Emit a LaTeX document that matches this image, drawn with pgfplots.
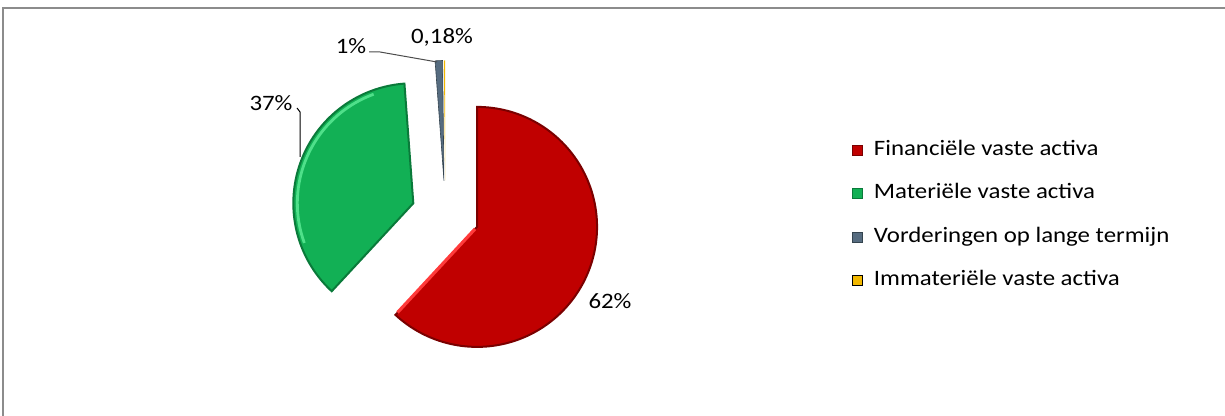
\documentclass[border=0pt]{standalone}
\usepackage{pgfplots}
\pgfplotsset{compat=1.18}
\usepackage{fontspec}
\setmainfont{Carlito}[FakeStretch=1.13]
\definecolor{cRed}{HTML}{C00000}
\definecolor{cRedD}{HTML}{7A0000}
\definecolor{cRedL}{HTML}{FF3A3A}
\definecolor{cGreen}{HTML}{12B055}
\definecolor{cGreenD}{HTML}{0A7A3A}
\definecolor{cGreenL}{HTML}{4FE08A}
\definecolor{cGray}{HTML}{566C80}
\definecolor{cGrayD}{HTML}{34444F}
\definecolor{cYel}{HTML}{F2B800}
\definecolor{cYelD}{HTML}{B08400}
\definecolor{frame}{HTML}{8C8C8C}
% data (percent)
\def\pRed{61.9}
\def\pGreen{36.92}
\def\pGray{1.0}
\def\pYel{0.18}
% geometry (pixel units)
\def\CX{445.4}
\def\CY{201.5}
\def\R{120}
\def\D{34}
\pgfmathsetmacro\aA{90}
\pgfmathsetmacro\aB{\aA-3.6*\pRed}
\pgfmathsetmacro\aC{\aB-3.6*\pGreen}
\pgfmathsetmacro\aDD{\aC-3.6*\pGray}
\pgfmathsetmacro\aE{\aDD-3.6*\pYel}
\pgfmathsetmacro\rx{\CX+\D*cos((\aA+\aB)/2)}
\pgfmathsetmacro\ry{\CY+\D*sin((\aA+\aB)/2)}
\pgfmathsetmacro\gx{\CX+\D*cos((\aB+\aC)/2)}
\pgfmathsetmacro\gy{\CY+\D*sin((\aB+\aC)/2)}
\pgfmathsetmacro\sx{\CX+\D*cos((\aC+\aDD)/2)}
\pgfmathsetmacro\sy{\CY+\D*sin((\aC+\aDD)/2)}
\pgfmathsetmacro\yx{\CX+\D*cos((\aDD+\aE)/2)}
\pgfmathsetmacro\yy{\CY+\D*sin((\aDD+\aE)/2)}
\pgfmathsetmacro\hax{\rx-2}
\pgfmathsetmacro\hay{\ry-2}
\pgfmathsetmacro\hbx{\rx-2+114*cos(\aB)}
\pgfmathsetmacro\hby{\ry-2+114*sin(\aB)}
\begin{document}
\begin{tikzpicture}
\useasboundingbox (0,0) rectangle (612.5pt,208pt);
\begin{axis}[
  scale only axis, width=612.5pt, height=208pt,
  xmin=0, xmax=1225, ymin=0, ymax=416,
  hide axis, clip=false,
  legend cell align=left,
  legend image code/.code={\draw[#1, line width=0.5pt] (0pt,-2.5pt) rectangle (5pt,2.5pt); \path (10pt,0pt);},
  legend style={draw=none, fill=none, inner sep=0pt, at={(axis cs:852,275)}, anchor=north west,
    font=\fontsize{11pt}{13pt}\selectfont,
    nodes={inner sep=0pt, text height=7pt, text depth=2pt},
    row sep=12.75pt},
]
\addplot[fill=cRed, draw=cRedD, line width=1pt, domain=\aB:\aA, samples=120, variable=\t]
  ({\rx+\R*cos(\t)}, {\ry+\R*sin(\t)}) -- (axis cs:\rx,\ry) -- cycle;
\addlegendentry{Financiële vaste activa}
\addplot[fill=cGreen, draw=cGreenD, line width=1pt, domain=\aC:\aB, samples=100, variable=\t]
  ({\gx+\R*cos(\t)}, {\gy+\R*sin(\t)}) -- (axis cs:\gx,\gy) -- cycle;
\addlegendentry{Materiële vaste activa}
\addplot[fill=cGray, draw=cGrayD, line width=0.3pt, domain=\aDD:\aC, samples=10, variable=\t]
  ({\sx+\R*cos(\t)}, {\sy+\R*sin(\t)}) -- (axis cs:\sx,\sy) -- cycle;
\addlegendentry{Vorderingen op lange termijn}
\addplot[fill=cYel, draw=none, domain=\aE:\aDD, samples=5, variable=\t]
  ({\yx+\R*cos(\t)}, {\yy+\R*sin(\t)}) -- (axis cs:\yx,\yy) -- cycle;
\addlegendentry{Immateriële vaste activa}
% highlights
\addplot[cRedL, line width=1.6pt, forget plot] coordinates {(\hax,\hay) (\hbx,\hby)};
\addplot[cGreenL, line width=1.4pt, forget plot, domain=110:200, samples=40, variable=\t]
  ({\gx+116*cos(\t)}, {\gy+116*sin(\t)});
% leader lines
\addplot[black, line width=0.5pt, forget plot] coordinates {(297,308) (300,304) (300,259)};
\addplot[black!70, line width=0.5pt, forget plot] coordinates {(369,364) (380,364) (437,354)};
% labels
\node[font=\fontsize{11pt}{13pt}\selectfont] at (axis cs:271,313) {37\%};
\node[font=\fontsize{11pt}{13pt}\selectfont] at (axis cs:610,115) {62\%};
\node[font=\fontsize{11pt}{13pt}\selectfont] at (axis cs:351,370) {1\%};
\node[font=\fontsize{11pt}{13pt}\selectfont] at (axis cs:442,379) {0,18\%};
\end{axis}
\draw[frame, line width=0.6pt] (1.5pt,0pt) -- (1.5pt,204pt) -- (612.5pt,204pt);
\end{tikzpicture}
\end{document}
